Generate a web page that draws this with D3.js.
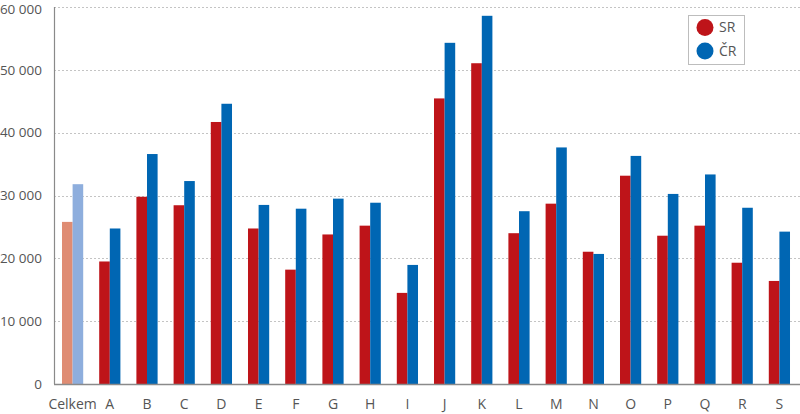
<!DOCTYPE html>
<html lang="cs">
<head>
<meta charset="UTF-8">
<title>SR / ČR</title>
<script src="https://d3js.org/d3.v7.min.js"></script>
<style>
  body { margin: 0; background: #fff; }
  svg text { font-family: "Open Sans", "Noto Sans", sans-serif; fill: #555; }
</style>
</head>
<body>
<div id="chart"></div>
<script>
// categories and values
var categories = ["Celkem", "A", "B", "C", "D", "E", "F", "G", "H", "I", "J", "K", "L", "M", "N", "O", "P", "Q", "R", "S"];
var seriesNames = ["SR", "ČR"];
var valuesSR = [25800, 19500, 29800, 28450, 41700, 24750, 18200, 23800, 25200, 14500, 45450, 51050, 24000, 28700, 21050, 33150, 23600, 25200, 19300, 16400];
var valuesCR = [31800, 24750, 36600, 32300, 44600, 28500, 27900, 29500, 28850, 18950, 54300, 58600, 27500, 37650, 20700, 36300, 30250, 33350, 28050, 24250];
var yTicks = [0, 10000, 20000, 30000, 40000, 50000, 60000];

var width = 800, height = 414;
var margin = {top: 7, right: 2, bottom: 30, left: 54};

var svg = d3.select("#chart").append("svg")
    .attr("width", width)
    .attr("height", height);

var x0 = d3.scaleBand()
    .domain(categories)
    .range([margin.left, width - margin.right])
    .paddingInner(0.43)
    .paddingOuter(0.215);

var x1 = d3.scaleBand()
    .domain(seriesNames)
    .range([0, x0.bandwidth()]);

var y = d3.scaleLinear()
    .domain([0, 60000])
    .range([height - margin.bottom, margin.top]);

var colors = {SR: "#be1419", "ČR": "#0066b3"};
var lightColors = {SR: "#df8c73", "ČR": "#8eaedd"};

var fmt = function(v) { return d3.format(",")(v).replace(/,/g, " "); };

// gridlines
svg.append("g")
  .selectAll("line")
  .data(yTicks.filter(function(d) { return d > 0; }))
  .enter().append("line")
    .attr("x1", margin.left)
    .attr("x2", width)
    .attr("y1", function(d) { return Math.round(y(d)) + 0.5; })
    .attr("y2", function(d) { return Math.round(y(d)) + 0.5; })
    .attr("stroke", "#c4c4c4")
    .attr("stroke-width", 1)
    .attr("stroke-dasharray", "2,2");

// y tick labels (top one kept inside the picture)
svg.append("g")
  .selectAll("text")
  .data(yTicks)
  .enter().append("text")
    .attr("x", 42)
    .attr("y", function(d) { return Math.max(y(d), 9); })
    .attr("dy", "0.35em")
    .attr("text-anchor", "end")
    .style("font-size", "13.5px")
    .text(fmt);

// bars
var rows = categories.map(function(c, i) {
  return {cat: c, idx: i, vals: [{s: "SR", v: valuesSR[i]}, {s: "ČR", v: valuesCR[i]}]};
});

var groups = svg.append("g")
  .selectAll("g")
  .data(rows)
  .enter().append("g")
    .attr("transform", function(d) { return "translate(" + x0(d.cat) + ",0)"; });

groups.selectAll("rect")
  .data(function(d) { return d.vals.map(function(e) { return {s: e.s, v: e.v, first: d.idx === 0}; }); })
  .enter().append("rect")
    .attr("x", function(d) { return x1(d.s); })
    .attr("width", x1.bandwidth())
    .attr("y", function(d) { return y(d.v); })
    .attr("height", function(d) { return y(0) - y(d.v); })
    .attr("fill", function(d) { return d.first ? lightColors[d.s] : colors[d.s]; });

// axes lines
svg.append("line")
    .attr("x1", margin.left + 0.5).attr("x2", margin.left + 0.5)
    .attr("y1", margin.top).attr("y2", y(0))
    .attr("stroke", "#8a8a8a").attr("stroke-width", 1.2);
svg.append("line")
    .attr("x1", margin.left).attr("x2", width)
    .attr("y1", y(0) + 0.5).attr("y2", y(0) + 0.5)
    .attr("stroke", "#8a8a8a").attr("stroke-width", 1.5);

// x labels
svg.append("g")
  .selectAll("text")
  .data(categories)
  .enter().append("text")
    .attr("x", function(d) { return x0(d) + x0.bandwidth() / 2; })
    .attr("y", 404)
    .attr("dy", "0.35em")
    .attr("text-anchor", "middle")
    .style("font-size", "14px")
    .text(function(d) { return d; });

// legend
var legend = svg.append("g").attr("transform", "translate(688,15)");
legend.append("rect")
    .attr("x", 0.5).attr("y", 0.5)
    .attr("width", 56).attr("height", 49)
    .attr("fill", "#fff")
    .attr("stroke", "#bdbdbd");
legend.selectAll("circle")
  .data(seriesNames)
  .enter().append("circle")
    .attr("cx", 17)
    .attr("cy", function(d, i) { return 12.5 + i * 23.5; })
    .attr("r", 8.5)
    .attr("fill", function(d) { return colors[d]; });
legend.selectAll("text")
  .data(seriesNames)
  .enter().append("text")
    .attr("x", 31)
    .attr("y", function(d, i) { return 12.5 + i * 23.5; })
    .attr("dy", "0.35em")
    .style("font-size", "14px")
    .text(function(d) { return d; });
</script>
</body>
</html>
